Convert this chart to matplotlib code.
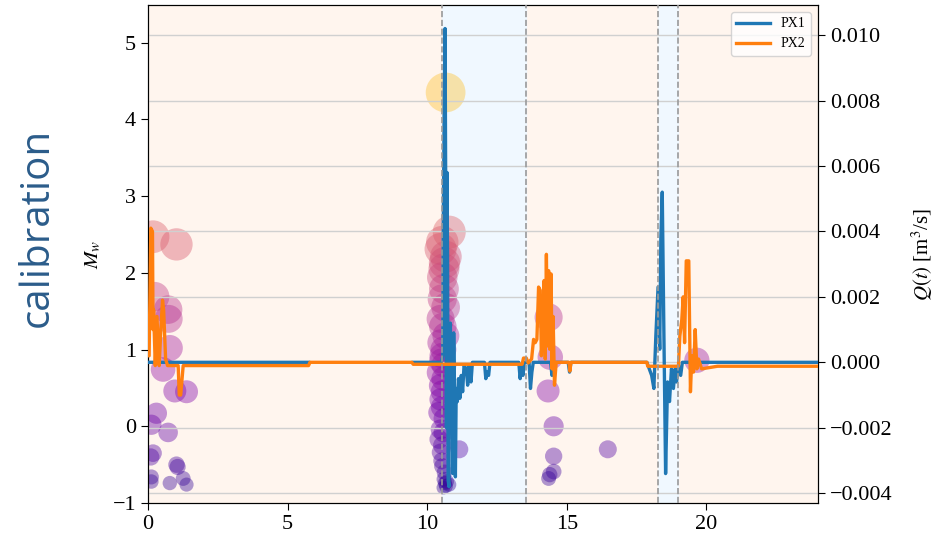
import matplotlib
matplotlib.use("Agg")
import matplotlib.pyplot as plt
import numpy as np

plt.rcParams["font.family"] = ["Liberation Serif", "DejaVu Serif"]
plt.rcParams["mathtext.fontset"] = "stix"

# ── Discharge series Q(t) for the two sensors ────────────────────────────────
px1_t = [0.00, 5.75, np.nan, 9.50, 10.50, 10.56, 10.58, 10.61, 10.64, 10.67, 10.69,
         10.71, 10.73, 10.75, 10.78, 10.80, 10.83, 10.86, 10.89, 10.92, 10.95,
         10.98, 11.01, 11.04, 11.08, 11.12, 11.17, 11.22, 11.27, 11.32, 11.40,
         11.45, 11.50, 11.57, 11.62, 12.05, 12.10, 12.15, 12.20, 12.25, 13.28,
         13.33, 13.38, 13.43, 13.48, 13.65, 13.70, 13.75, 13.80, 14.42, 14.47,
         14.52, 15.05, 15.10, 15.15, 17.87, 18.04, 18.12, 18.19, 18.27, 18.33,
         18.37, 18.42, 18.48, 18.54, 18.61, 18.68, 18.75, 18.82, 18.88, 18.93,
         19.00, 19.08, 19.14, 24.00]
px1_q = [0.0, 0.0, np.nan, 0.0, 0.0, 0.0002, 0.0045, 0.0080, 0.0102, 0.0040, -0.0020,
         0.0058, 0.0030, -0.0036, -0.0038, 0.0005, 0.0012, -0.0010, -0.0005,
         -0.0034, 0.0009, -0.0012, -0.0035, -0.0008, -0.0012, -0.0005, -0.0011,
         -0.0004, -0.0009, -0.0001, -0.0002, -0.0007, -0.0001, -0.0006, 0.0,
         0.0, -0.0005, -0.0003, -0.0004, 0.0, 0.0, -0.0005, -0.0001, -0.0004,
         0.0, 0.0, -0.0008, -0.0003, 0.0, 0.0, -0.0004, 0.0, 0.0, -0.0003, 0.0,
         0.0, -0.0004, -0.0008, 0.0008, 0.0023, 0.0004, 0.0038, 0.0052, 0.0008,
         -0.0034, -0.0006, -0.0012, -0.0002, -0.0008, -0.0002, -0.0006, -0.0001,
         -0.0004, 0.0, 0.0]

px2_t = [0.00, 0.04, 0.10, 0.16, 0.18, 0.20, 0.26, 0.32, 0.40, 0.46, 0.52, 0.56,
         0.63, 0.70, 1.08, 1.12, 1.17, 1.26, 5.75, 5.80, 9.45, 9.50, 13.40,
         13.45, 13.55, 13.62, 13.74, 13.81, 13.87, 13.93, 13.99, 14.05, 14.09,
         14.15, 14.19, 14.23, 14.27, 14.31, 14.35, 14.39, 14.44, 14.47, 14.51,
         14.56, 14.62, 15.08, 15.11, 15.15, 17.87, 17.90, 19.00, 19.05, 19.12,
         19.17, 19.22, 19.28, 19.37, 19.43, 19.48, 19.54, 19.60, 19.66, 19.72,
         19.83, 20.40, 24.00]
px2_q = [0.0002, 0.0002, 0.0041, 0.0040, 0.0010, 0.0016, -0.0001, 0.0014,
         -0.0001, 0.0010, 0.0019, 0.0016, 0.0001, -0.0001, -0.0001, -0.0010,
         -0.0010, -0.0001, -0.0001, 0.0, 0.0, -0.00006, -0.00006, 0.00013,
         0.00013, -0.00002, 0.0001, 0.0007, 0.0006, 0.0007, 0.0023, 0.0022,
         0.0002, 0.0015, 0.0025, 0.0001, 0.0033, 0.0005, 0.0028, 0.0004, 0.0027,
         -0.0002, 0.0014, -0.0007, 0.0, 0.0, -0.00027, 0.0, 0.0, -0.00012,
         -0.00012, 0.0008, 0.0013, 0.0020, 0.0006, 0.0031, 0.0031, -0.0009,
         0.0002, -0.0003, 0.0010, -0.0002, 0.0001, -0.0002, -0.00012, -0.00012]

# ── Seismic events: time and moment magnitude ────────────────────────────────
event_t = [0.18, 1.02, 0.24, 0.72, 0.74, 0.78, 0.54, 0.96, 1.38, 0.30, 0.12,
           0.72, 0.18, 0.10, 1.02, 1.06, 0.12, 1.26, 0.78, 1.38, 0.12,
           10.66, 10.79, 10.54, 10.48, 10.67, 10.62, 10.60, 10.54, 10.60, 10.66,
           10.54, 10.56, 10.48, 10.67, 10.48, 10.54, 10.60, 10.42, 10.48, 10.54,
           10.48, 10.42, 10.60, 10.48, 10.42, 10.54, 10.48, 10.54, 10.62, 10.60,
           10.70, 10.67, 10.79, 11.15, 10.58, 10.64, 10.52, 10.58, 10.52, 10.58,
           10.52, 10.58,
           14.35, 14.41, 14.33, 14.53, 14.53, 14.53, 14.39, 14.35, 16.47, 19.66]
event_m = [2.47, 2.37, 1.69, 1.52, 1.40, 1.02, 0.74, 0.46, 0.45, 0.17, 0.02,
           -0.08, -0.35, -0.40, -0.50, -0.53, -0.66, -0.68, -0.74, -0.76, -0.72,
           4.35, 2.53, 2.40, 2.31, 2.21, 2.13, 2.05, 1.94, 1.79, 1.55,
           1.66, 1.30, 1.40, 1.18, 1.09, 0.92, 0.80, 0.70, 0.53, 0.45,
           0.35, 0.18, 0.10, -0.04, -0.17, -0.25, -0.34, -0.52, -0.60, -0.69,
           -0.72, -0.78, -0.76, -0.30, -0.80, -0.74, -0.45, -0.08, 0.25, 0.62,
           0.85, 1.00,
           1.42, 0.90, 0.46, 0.00, -0.39, -0.59, -0.63, -0.68, -0.30, 0.86]

spans = [(10.52, 13.55), (18.25, 19.00)]

fig = plt.figure(figsize=(9.35, 5.41), dpi=100)
ax = fig.add_axes([0.1583, 0.0702, 0.7166, 0.9206])
ax.set_facecolor("#FFF5EE")
ax2 = ax.twinx()

for a, b in spans:
    ax.axvspan(a, b, color="#F0F8FF", zorder=0)

m = np.array(event_m)
ax.scatter(event_t, event_m, s=140 * (m + 1.5), c=m, cmap="plasma",
           vmin=-1.2, vmax=5.2, alpha=0.4, edgecolors="none", zorder=2)
ax.set_xlim(0, 24)
ax.set_ylim(-1, 5.49)
ax.set_yticks([-1, 0, 1, 2, 3, 4, 5])
ax.set_xticks([0, 5, 10, 15, 20])
ax.set_ylabel("$M_w$", fontsize=15)
ax.yaxis.set_label_coords(-0.067, 0.5)

ax2.plot(px1_t, px1_q, color="#1f77b4", lw=2.4, label="PX1", zorder=3)
ax2.plot(px2_t, px2_q, color="#ff7f0e", lw=2.4, label="PX2", zorder=4)
for a, b in spans:
    for xv in (a, b):
        ax2.axvline(xv, color="#999999", ls="--", lw=1.2, zorder=5)
ax2.set_ylim(-0.0043, 0.01092)
ax2.set_yticks([-0.004, -0.002, 0.0, 0.002, 0.004, 0.006, 0.008, 0.010])
ax2.set_yticklabels(["\u22120.004", "\u22120.002", "0.000", "0.002", "0.004",
                     "0.006", "0.008", "0.010"])
ax2.grid(axis="y", color="#d0d0d0", lw=1.0)
ax2.set_ylabel("$Q(t)$ [m$^3$/s]", fontsize=15)
ax2.yaxis.set_label_coords(1.136, 0.5)
ax2.legend(loc="upper right", fontsize=10, handlelength=2.4)

for a in (ax, ax2):
    a.tick_params(labelsize=16, direction="out", length=5)

fig.text(0.04, 0.58, "calibration", rotation=90, ha="center", va="center",
         fontsize=29, color="#2b5c8a", family=["Open Sans", "DejaVu Sans"])

fig.savefig("out.png", dpi=100)
